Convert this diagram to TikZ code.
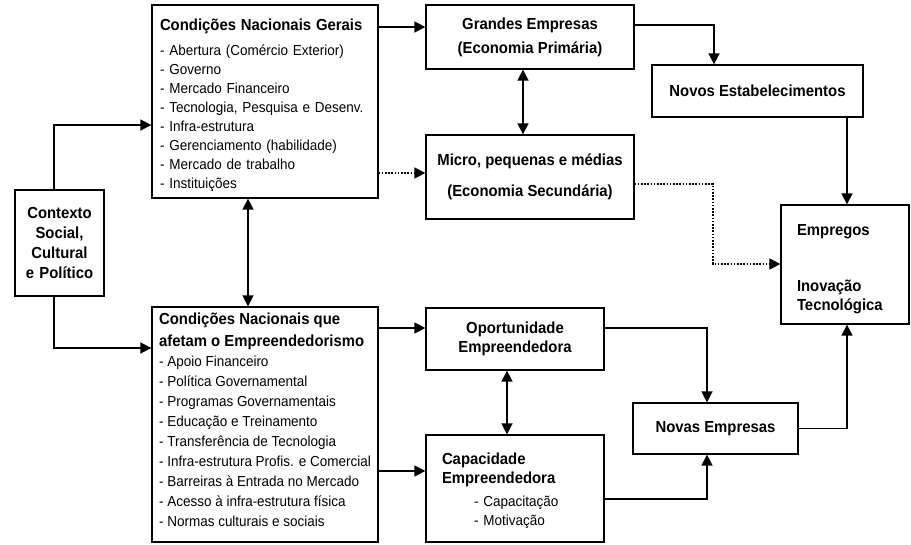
\documentclass[tikz,border=0pt]{standalone}
\usepackage{fontspec}
\setmainfont[FakeStretch=0.93]{Liberation Sans}
\usepackage{tikz}
\usetikzlibrary{arrows.meta}

\newcommand{\boxtitle}{\fontsize{16}{19}\selectfont\bfseries}
\newcommand{\boxitem}{\fontsize{14.5}{18.9}\selectfont}

\tikzset{
  box/.style={draw,line width=1.3pt,inner sep=0pt},
  conn/.style={line width=1.6pt,-{Triangle[length=11pt,width=11pt]}},
  bothconn/.style={line width=1.6pt,{Triangle[length=11pt,width=11pt]}-{Triangle[length=11pt,width=11pt]}},
  dotconn/.style={conn,dash pattern=on 1.6pt off 1.6pt},
}

\begin{document}
\begin{tikzpicture}[x=1pt,y=-1pt]
  \useasboundingbox (0,0) rectangle (911,544);
  % left column
  \node[box,minimum width=89pt,minimum height=106pt,text width=80pt,align=center,
        font=\fontsize{16}{20.3}\selectfont\bfseries] (ctx) at (59.5,243)
    {Contexto\\Social,\\Cultural\\e Político};
  \node[box,minimum width=226pt,minimum height=193pt,text width=210pt,align=left,font=\boxitem] (cng) at (265,101.5)
    {\rule{0pt}{19pt}{\boxtitle Condições Nacionais Gerais}\\[6pt]
     - Abertura (Comércio Exterior)\\
     - Governo\\
     - Mercado Financeiro\\
     - Tecnologia, Pesquisa e Desenv.\\
     - Infra-estrutura\\
     - Gerenciamento (habilidade)\\
     - Mercado de trabalho\\
     - Instituições};
  \node[box,minimum width=226pt,minimum height=235pt,align=left,
        font=\fontsize{14.5}{20}\selectfont] (cne) at (265,424.5)
    {{\boxtitle Condições Nacionais que}\\[1.7pt]
     {\boxtitle afetam o Empreendedorismo}\\
     - Apoio Financeiro\\
     - Política Governamental\\
     - Programas Governamentais\\
     - Educação e Treinamento\\
     - Transferência de Tecnologia\\
     - Infra-estrutura Profis. e Comercial\\
     - Barreiras à Entrada no Mercado\\
     - Acesso à infra-estrutura física\\
     - Normas culturais e sociais\rule[-10pt]{0pt}{1pt}};
  % middle column
  \node[box,minimum width=208pt,minimum height=64pt,align=center,
        font=\fontsize{16}{24}\selectfont\bfseries] (ge) at (530,37)
    {Grandes Empresas\\(Economia Primária)};
  \node[box,minimum width=208pt,minimum height=84pt,align=center,
        font=\fontsize{16}{31.5}\selectfont\bfseries] (micro) at (530,177)
    {Micro, pequenas e médias\\(Economia Secundária)};
  \node[box,minimum width=178pt,minimum height=62pt,align=center,
        font=\fontsize{16}{19.5}\selectfont\bfseries] (opo) at (515,339)
    {Oportunidade\\Empreendedora};
  \node[box,minimum width=178pt,minimum height=107pt,text width=146pt,align=left,
        font=\fontsize{14.5}{19}\selectfont] (cap) at (515,488.5)
    {\rule{0pt}{16pt}{\boxtitle Capacidade}\\
     {\boxtitle Empreendedora}\\[4pt]
     \hspace*{32pt}- Capacitação\\
     \hspace*{32pt}- Motivação};
  % right column
  \node[box,minimum width=211pt,minimum height=52pt,font=\boxtitle] (nest) at (757.5,91)
    {Novos Estabelecimentos};
  \node[box,minimum width=165pt,minimum height=51pt,font=\boxtitle] (nov) at (715.5,428.5)
    {Novas Empresas};
  \node[box,minimum width=128pt,minimum height=119pt,text width=96pt,align=left,
        font=\fontsize{16}{19}\selectfont\bfseries] (emp) at (845,264.5)
    {\rule{0pt}{20pt}Empregos\\[37pt]Inovação\\Tecnológica};
  % connectors
  \draw[conn] ([xshift=-5.5pt]ctx.north) |- (cng.west |- 0,125);
  \draw[conn] ([xshift=-5.5pt]ctx.south) |- (cne.west |- 0,348);
  \draw[bothconn] (cng.south -| 248,0) -- (cne.north -| 248,0);
  \draw[conn] (cng.east |- 0,27) -- (ge.west |- 0,27);
  \draw[dotconn] (cng.east |- 0,173) -- (micro.west |- 0,173);
  \draw[bothconn] (ge.south -| 523,0) -- (micro.north -| 523,0);
  \draw[conn] (ge.east |- 0,25) -| (nest.north -| 714,0);
  \draw[conn] (nest.south -| 847,0) -- (emp.north -| 847,0);
  \draw[dotconn] (micro.east |- 0,184) -| (713,264) -- (emp.west |- 0,264);
  \draw[conn] (cne.east |- 0,328) -- (opo.west |- 0,328);
  \draw[conn] (cne.east |- 0,471) -- (cap.west |- 0,471);
  \draw[bothconn] (opo.south -| 507,0) -- (cap.north -| 507,0);
  \draw[conn] (opo.east |- 0,328) -| (nov.north -| 707,0);
  \draw[conn] (cap.east |- 0,499) -| (nov.south -| 707,0);
  \draw[conn] (nov.east) -| (emp.south -| 847,0);
\end{tikzpicture}
\end{document}
